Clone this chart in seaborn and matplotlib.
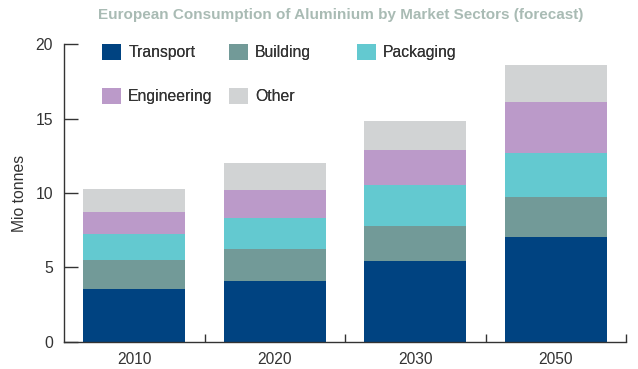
import numpy as np
import pandas as pd
import matplotlib
matplotlib.use("Agg")
import matplotlib.pyplot as plt
from matplotlib.ticker import FixedLocator
import seaborn as sns

# Forecast of European aluminium consumption per market sector (million tonnes)
years = ["2010", "2020", "2030", "2050"]
transport = [3.55, 4.10, 5.45, 7.05]
building = [1.95, 2.15, 2.35, 2.70]
packaging = [1.75, 2.10, 2.75, 2.95]
engineering = [1.50, 1.85, 2.35, 3.45]
other = [1.55, 1.80, 1.95, 2.45]

sectors = ["Transport", "Building", "Packaging", "Engineering", "Other"]
series = [transport, building, packaging, engineering, other]
colors = ["#004381", "#729a98", "#63c9d0", "#bb9ac9", "#d1d3d4"]

df = pd.DataFrame({"year": years})
for name, vals in zip(sectors, series):
    df[name] = vals

sns.set_theme(style="white")
plt.rcParams["font.family"] = ["Liberation Sans", "DejaVu Sans"]
text_color = "#333333"

fig = plt.figure(figsize=(6.38, 3.69), dpi=100)
ax = fig.add_axes([64 / 638, 1 - 341.7 / 369, 562 / 638, (341.7 - 44.3) / 369])

bottom = np.zeros(len(years))
for name, color in zip(sectors, colors):
    sns.barplot(data=df, x="year", y=name, bottom=bottom, color=color,
                width=0.725, linewidth=0, saturation=1, label=name, ax=ax)
    bottom = bottom + df[name].to_numpy()

ax.set_xlim(-0.5, 3.5)
ax.set_ylim(0, 20)
ax.set_yticks([0, 5, 10, 15, 20])
ax.set_xlabel("")
ax.set_ylabel("")

for side in ("top", "right"):
    ax.spines[side].set_visible(False)
for side in ("left", "bottom"):
    ax.spines[side].set_color(text_color)
    ax.spines[side].set_linewidth(1.0)

ax.xaxis.set_minor_locator(FixedLocator([0.5, 1.5, 2.5, 3.5]))
ax.tick_params(axis="x", which="major", length=0, pad=7.5, labelsize=11.2, labelcolor=text_color)
ax.tick_params(axis="x", which="minor", direction="in", length=5.5, width=1.0,
               color=text_color, bottom=True)
ax.tick_params(axis="y", which="major", direction="in", length=10, width=1.0,
               color=text_color, pad=8, labelsize=11.3, labelcolor=text_color, left=True)

ax.set_ylabel("Mio tonnes", fontsize=11.3, color=text_color)
ax.yaxis.set_label_coords(-0.0783, 0.5)
ax.yaxis.label.set_verticalalignment("center")

if ax.get_legend() is not None:
    ax.get_legend().remove()

# Legend laid out as a 3-column grid: each column is its own legend
handles = dict(zip(sectors, ax.containers))
columns = [(["Transport", "Engineering"], 102), (["Building", "Other"], 229), (["Packaging"], 357)]
for names, xpix in columns:
    leg = fig.legend([handles[n] for n in names], names, loc="upper left",
                     bbox_to_anchor=(xpix / 638, 1 - 44 / 369), frameon=False,
                     fontsize=11.3, handlelength=1.22, handleheight=1.22,
                     handletextpad=0.45, labelspacing=1.75, borderpad=0,
                     borderaxespad=0, labelcolor=text_color)
    fig.add_artist(leg)

fig.text(341 / 638, 1 - 15 / 369, "European Consumption of Aluminium by Market Sectors (forecast)",
         ha="center", va="center", fontsize=11, fontweight="bold", color="#a9bbb4")

fig.savefig("out.png", dpi=100)
